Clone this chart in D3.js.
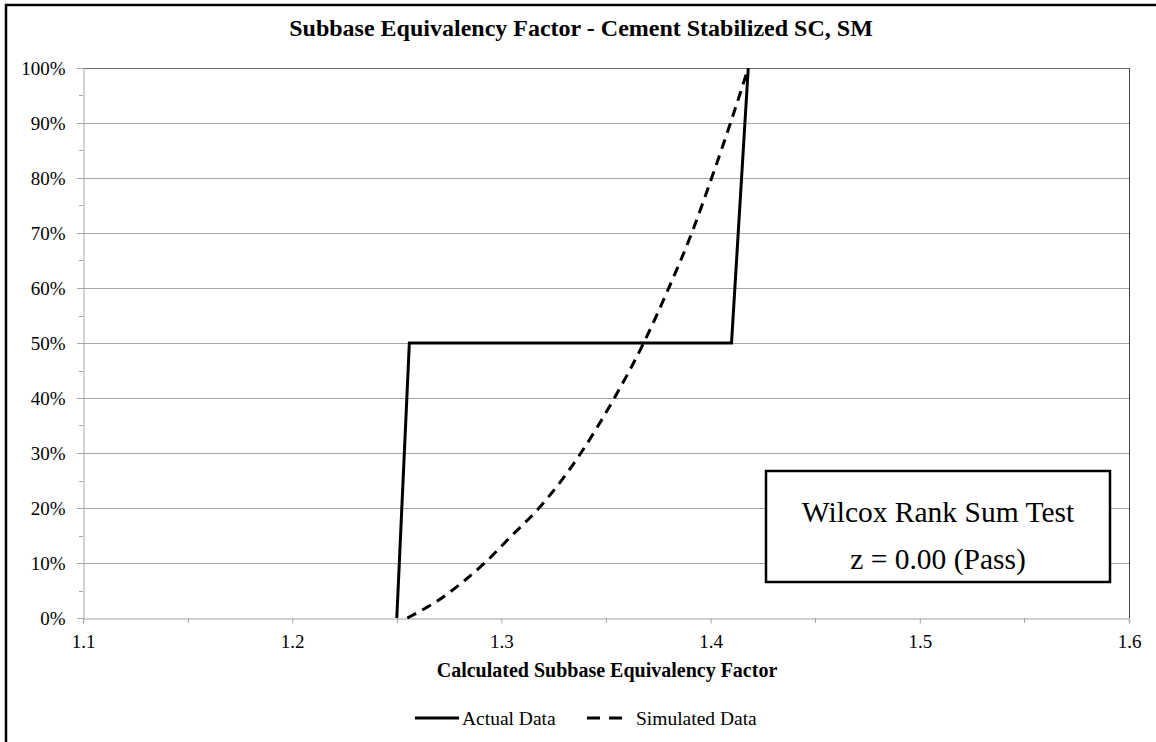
<!DOCTYPE html>
<html>
<head>
<meta charset="utf-8">
<script src="https://cdn.jsdelivr.net/npm/d3@7/dist/d3.min.js"></script>
<style>
  html, body { margin: 0; padding: 0; background: #fff; }
  svg { display: block; }
  text { font-family: "Liberation Serif", "Times New Roman", serif; fill: #000; }
</style>
</head>
<body>
<svg id="chart" width="1156" height="742"></svg>
<script>
// ---- Data ----
const titleText = "Subbase Equivalency Factor - Cement Stabilized SC, SM";
const xAxisTitle = "Calculated  Subbase Equivalency Factor";
const xTicks = [1.1, 1.2, 1.3, 1.4, 1.5, 1.6];
const yTicks = [0, 0.1, 0.2, 0.3, 0.4, 0.5, 0.6, 0.7, 0.8, 0.9, 1.0];

const actualX = [1.250, 1.256, 1.410, 1.418];
const actualY = [0.00, 0.50, 0.50, 1.00];

const simX = [1.255, 1.269, 1.283, 1.292, 1.305, 1.318, 1.338, 1.354, 1.368, 1.380, 1.391, 1.4005, 1.4095, 1.418];
const simY = [0.00, 0.03, 0.07, 0.10, 0.15, 0.20, 0.30, 0.40, 0.50, 0.60, 0.70, 0.80, 0.90, 1.00];

const seriesNames = ["Actual Data", "Simulated Data"];
const boxLines = ["Wilcox Rank Sum Test", "z = 0.00 (Pass)"];

// ---- Layout ----
const svg = d3.select("#chart");
const W = 1156, H = 742;
const plot = { left: 83, right: 1129, top: 68, bottom: 618 };

const x = d3.scaleLinear().domain([1.1, 1.6]).range([plot.left, plot.right]);
const y = d3.scaleLinear().domain([0, 1]).range([plot.bottom, plot.top]);

// outer border (left & top visible, extends past right/bottom)
svg.append("rect")
  .attr("x", 6).attr("y", 5)
  .attr("width", W + 10).attr("height", H + 10)
  .attr("fill", "none").attr("stroke", "#000").attr("stroke-width", 2.5);

// title
svg.append("text")
  .attr("x", 581).attr("y", 36)
  .attr("text-anchor", "middle")
  .style("font-weight", "bold").style("font-size", "24px")
  .text(titleText);

// gridlines
svg.append("g").selectAll("line")
  .data(yTicks.filter(d => d > 0 && d < 1))
  .join("line")
  .attr("x1", plot.left - 6).attr("x2", plot.right)
  .attr("y1", d => Math.round(y(d)) + 0.5).attr("y2", d => Math.round(y(d)) + 0.5)
  .attr("stroke", "#a6a6a6").attr("stroke-width", 1);

// top border of plot
svg.append("line")
  .attr("x1", plot.left - 6).attr("x2", plot.right + 0.5)
  .attr("y1", plot.top + 0.5).attr("y2", plot.top + 0.5)
  .attr("stroke", "#707070").attr("stroke-width", 1);
// right border of plot
svg.append("line")
  .attr("x1", plot.right + 0.5).attr("x2", plot.right + 0.5)
  .attr("y1", plot.top).attr("y2", plot.bottom)
  .attr("stroke", "#404040").attr("stroke-width", 1);

// y axis
const yAxis = d3.axisLeft(y).tickValues(yTicks).tickFormat(d3.format(".0%")).tickSize(6).tickPadding(12);
const gy = svg.append("g").attr("transform", `translate(${plot.left + 0.5},0)`).call(yAxis);
gy.select(".domain").attr("stroke", "#a6a6a6");
gy.selectAll(".tick line").attr("stroke", "#a6a6a6");
gy.selectAll(".tick text").style("font-size", "19px").style("font-family", "Liberation Serif").attr("dy", "0.35em");
// minor y ticks
const yMinor = d3.range(0.05, 1, 0.1);
svg.append("g").selectAll("line").data(yMinor).join("line")
  .attr("x1", plot.left - 4).attr("x2", plot.left)
  .attr("y1", d => Math.round(y(d)) + 0.5).attr("y2", d => Math.round(y(d)) + 0.5)
  .attr("stroke", "#a6a6a6");

// x axis
const xAxis = d3.axisBottom(x).tickValues(xTicks).tickFormat(d3.format(".1f")).tickSize(5).tickPadding(11);
const gx = svg.append("g").attr("transform", `translate(0,${plot.bottom + 0.5})`).call(xAxis);
gx.select(".domain").attr("stroke", "#c0c0c0").attr("stroke-width", 1.5);
gx.selectAll(".tick line").attr("stroke", "#a6a6a6");
gx.selectAll(".tick text").style("font-size", "19px").style("font-family", "Liberation Serif");
const xMinor = [1.15, 1.25, 1.35, 1.45, 1.55];
svg.append("g").selectAll("line").data(xMinor).join("line")
  .attr("x1", d => Math.round(x(d)) + 0.5).attr("x2", d => Math.round(x(d)) + 0.5)
  .attr("y1", plot.bottom).attr("y2", plot.bottom + 5)
  .attr("stroke", "#a6a6a6");

// x axis title
svg.append("text")
  .attr("x", 607).attr("y", 677)
  .attr("text-anchor", "middle")
  .style("font-weight", "bold").style("font-size", "20px")
  .text(xAxisTitle);

// lines
const actualData = actualX.map((v, i) => [v, actualY[i]]);
const simData = simX.map((v, i) => [v, simY[i]]);

svg.append("path")
  .datum(simData)
  .attr("fill", "none").attr("stroke", "#000").attr("stroke-width", 3)
  .attr("stroke-dasharray", "10,7")
  .attr("d", d3.line().x(d => x(d[0])).y(d => y(d[1])).curve(d3.curveMonotoneX));

svg.append("path")
  .datum(actualData)
  .attr("fill", "none").attr("stroke", "#000").attr("stroke-width", 3)
  .attr("stroke-linejoin", "miter")
  .attr("d", d3.line().x(d => x(d[0])).y(d => y(d[1])));

// annotation box
const box = svg.append("g");
box.append("rect")
  .attr("x", 766).attr("y", 471).attr("width", 344).attr("height", 111)
  .attr("fill", "#fff").attr("stroke", "#000").attr("stroke-width", 2.5);
box.selectAll("text").data(boxLines).join("text")
  .attr("x", 938).attr("y", (d, i) => 522 + i * 47)
  .attr("text-anchor", "middle")
  .style("font-size", "29.5px")
  .text(d => d);

// legend
const leg = svg.append("g");
leg.append("line").attr("x1", 415).attr("x2", 459).attr("y1", 718).attr("y2", 718)
  .attr("stroke", "#000").attr("stroke-width", 3);
leg.append("text").attr("x", 462).attr("y", 724.5).style("font-size", "19.5px").text(seriesNames[0]);
leg.append("line").attr("x1", 587).attr("x2", 622).attr("y1", 718).attr("y2", 718)
  .attr("stroke", "#000").attr("stroke-width", 3).attr("stroke-dasharray", "13,9");
leg.append("text").attr("x", 636).attr("y", 724.5).style("font-size", "19.5px").text(seriesNames[1]);
</script>
</body>
</html>
